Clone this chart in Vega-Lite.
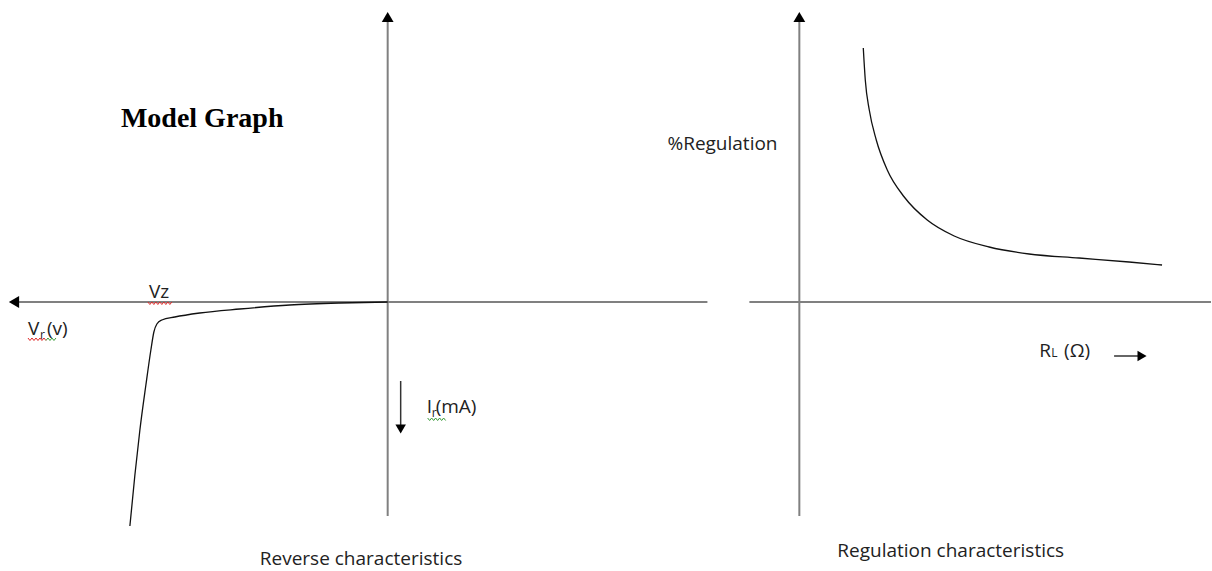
{
  "$schema": "https://vega.github.io/schema/vega-lite/v6.json",
  "width": 1212,
  "height": 571,
  "autosize": {"type": "fit", "contains": "padding"},
  "padding": 0,
  "background": "white",
  "config": {"view": {"stroke": null}},
  "datasets": {
    "axes": [
      {"name": "left-h", "x1": 18, "y1": 302, "x2": 708, "y2": 302},
      {"name": "left-v", "x1": 388, "y1": 20, "x2": 388, "y2": 516},
      {"name": "right-v", "x1": 800, "y1": 20, "x2": 800, "y2": 516},
      {"name": "right-h", "x1": 750, "y1": 302, "x2": 1212, "y2": 302}
    ],
    "pointers": [
      {"name": "Ir", "x1": 401, "y1": 381, "x2": 401, "y2": 426},
      {"name": "RL", "x1": 1115, "y1": 356, "x2": 1140, "y2": 356}
    ],
    "heads": [
      {"x": 388, "y": 17, "dir": "triangle-up", "kind": "axis"},
      {"x": 800, "y": 17, "dir": "triangle-up", "kind": "axis"},
      {"x": 14, "y": 302, "dir": "triangle-left", "kind": "axis"},
      {"x": 401, "y": 429, "dir": "triangle-down", "kind": "pointer"},
      {"x": 1143, "y": 356, "dir": "triangle-right", "kind": "pointer"}
    ],
    "curves": [
      {"id": "reverse", "ord": 0, "x": 388, "y": 302},
      {"id": "reverse", "ord": 1, "x": 340, "y": 303},
      {"id": "reverse", "ord": 2, "x": 290, "y": 305},
      {"id": "reverse", "ord": 3, "x": 240, "y": 309},
      {"id": "reverse", "ord": 4, "x": 200, "y": 313},
      {"id": "reverse", "ord": 5, "x": 175, "y": 317},
      {"id": "reverse", "ord": 6, "x": 162, "y": 320},
      {"id": "reverse", "ord": 7, "x": 157, "y": 324},
      {"id": "reverse", "ord": 8, "x": 154, "y": 332},
      {"id": "reverse", "ord": 9, "x": 151, "y": 350},
      {"id": "reverse", "ord": 10, "x": 146, "y": 385},
      {"id": "reverse", "ord": 11, "x": 140, "y": 430},
      {"id": "reverse", "ord": 12, "x": 135, "y": 475},
      {"id": "reverse", "ord": 13, "x": 130, "y": 526},
      {"id": "regulation", "ord": 0, "x": 864, "y": 48},
      {"id": "regulation", "ord": 1, "x": 866, "y": 80},
      {"id": "regulation", "ord": 2, "x": 870, "y": 110},
      {"id": "regulation", "ord": 3, "x": 877, "y": 140},
      {"id": "regulation", "ord": 4, "x": 888, "y": 170},
      {"id": "regulation", "ord": 5, "x": 905, "y": 197},
      {"id": "regulation", "ord": 6, "x": 928, "y": 220},
      {"id": "regulation", "ord": 7, "x": 955, "y": 236},
      {"id": "regulation", "ord": 8, "x": 990, "y": 247},
      {"id": "regulation", "ord": 9, "x": 1030, "y": 254},
      {"id": "regulation", "ord": 10, "x": 1080, "y": 258},
      {"id": "regulation", "ord": 11, "x": 1130, "y": 262},
      {"id": "regulation", "ord": 12, "x": 1163, "y": 265}
    ],
    "squiggles": [
      {"id": "vz", "kind": "spelling", "ord": 0, "x": 148, "y": 302},
      {"id": "vz", "kind": "spelling", "ord": 1, "x": 150, "y": 304.5},
      {"id": "vz", "kind": "spelling", "ord": 2, "x": 152, "y": 302},
      {"id": "vz", "kind": "spelling", "ord": 3, "x": 154, "y": 304.5},
      {"id": "vz", "kind": "spelling", "ord": 4, "x": 156, "y": 302},
      {"id": "vz", "kind": "spelling", "ord": 5, "x": 158, "y": 304.5},
      {"id": "vz", "kind": "spelling", "ord": 6, "x": 160, "y": 302},
      {"id": "vz", "kind": "spelling", "ord": 7, "x": 162, "y": 304.5},
      {"id": "vz", "kind": "spelling", "ord": 8, "x": 164, "y": 302},
      {"id": "vz", "kind": "spelling", "ord": 9, "x": 166, "y": 304.5},
      {"id": "vz", "kind": "spelling", "ord": 10, "x": 168, "y": 302},
      {"id": "vz", "kind": "spelling", "ord": 11, "x": 170, "y": 304.5},
      {"id": "vz", "kind": "spelling", "ord": 12, "x": 172, "y": 302},
      {"id": "vr", "kind": "spelling", "ord": 0, "x": 28, "y": 338},
      {"id": "vr", "kind": "spelling", "ord": 1, "x": 30, "y": 340.5},
      {"id": "vr", "kind": "spelling", "ord": 2, "x": 32, "y": 338},
      {"id": "vr", "kind": "spelling", "ord": 3, "x": 34, "y": 340.5},
      {"id": "vr", "kind": "spelling", "ord": 4, "x": 36, "y": 338},
      {"id": "vr", "kind": "spelling", "ord": 5, "x": 38, "y": 340.5},
      {"id": "vr", "kind": "spelling", "ord": 6, "x": 40, "y": 338},
      {"id": "vr", "kind": "spelling", "ord": 7, "x": 42, "y": 340.5},
      {"id": "vr", "kind": "spelling", "ord": 8, "x": 44, "y": 338},
      {"id": "vr", "kind": "spelling", "ord": 9, "x": 46, "y": 340.5},
      {"id": "vrg", "kind": "grammar", "ord": 0, "x": 46, "y": 340.5},
      {"id": "vrg", "kind": "grammar", "ord": 1, "x": 48, "y": 338},
      {"id": "vrg", "kind": "grammar", "ord": 2, "x": 50, "y": 340.5},
      {"id": "vrg", "kind": "grammar", "ord": 3, "x": 52, "y": 338},
      {"id": "vrg", "kind": "grammar", "ord": 4, "x": 54, "y": 340.5},
      {"id": "vrg", "kind": "grammar", "ord": 5, "x": 56, "y": 338},
      {"id": "ir", "kind": "grammar", "ord": 0, "x": 428, "y": 418},
      {"id": "ir", "kind": "grammar", "ord": 1, "x": 430, "y": 420.5},
      {"id": "ir", "kind": "grammar", "ord": 2, "x": 432, "y": 418},
      {"id": "ir", "kind": "grammar", "ord": 3, "x": 434, "y": 420.5},
      {"id": "ir", "kind": "grammar", "ord": 4, "x": 436, "y": 418},
      {"id": "ir", "kind": "grammar", "ord": 5, "x": 438, "y": 420.5},
      {"id": "ir", "kind": "grammar", "ord": 6, "x": 440, "y": 418},
      {"id": "ir", "kind": "grammar", "ord": 7, "x": 442, "y": 420.5},
      {"id": "ir", "kind": "grammar", "ord": 8, "x": 444, "y": 418},
      {"id": "ir", "kind": "grammar", "ord": 9, "x": 446, "y": 420.5}
    ],
    "labels": [
      {"role": "title", "x": 121, "y": 127, "text": "Model Graph"},
      {"role": "main", "x": 149, "y": 298, "text": "Vz"},
      {"role": "main", "x": 28, "y": 335, "text": "V"},
      {"role": "sub", "x": 40, "y": 339, "text": "r"},
      {"role": "main", "x": 47, "y": 335, "text": "(v)"},
      {"role": "main", "x": 427, "y": 413, "text": "I"},
      {"role": "sub", "x": 432, "y": 417, "text": "r"},
      {"role": "main", "x": 436, "y": 413, "text": "(mA)"},
      {"role": "main", "x": 668, "y": 150, "text": "%Regulation"},
      {"role": "main", "x": 1040, "y": 357, "text": "R"},
      {"role": "sub", "x": 1052, "y": 357, "text": "L"},
      {"role": "main", "x": 1065, "y": 357, "text": "(Ω)"},
      {"role": "main", "x": 260, "y": 565, "text": "Reverse characteristics"},
      {"role": "main", "x": 838, "y": 557, "text": "Regulation characteristics"}
    ]
  },
  "encoding": {},
  "layer": [
    {
      "data": {"name": "axes"},
      "mark": {"type": "rule", "color": "#808080", "strokeWidth": 2},
      "encoding": {
        "x": {"field": "x1", "type": "quantitative", "scale": {"domain": [0, 1212], "nice": false, "zero": false}, "axis": null},
        "y": {"field": "y1", "type": "quantitative", "scale": {"domain": [0, 571], "reverse": true, "nice": false, "zero": false}, "axis": null},
        "x2": {"field": "x2"},
        "y2": {"field": "y2"}
      }
    },
    {
      "data": {"name": "pointers"},
      "mark": {"type": "rule", "color": "#333333", "strokeWidth": 1.5},
      "encoding": {
        "x": {"field": "x1", "type": "quantitative", "axis": null},
        "y": {"field": "y1", "type": "quantitative", "axis": null},
        "x2": {"field": "x2"},
        "y2": {"field": "y2"}
      }
    },
    {
      "data": {"name": "curves"},
      "mark": {"type": "line", "color": "#111111", "strokeWidth": 1.3, "interpolate": "monotone"},
      "encoding": {
        "x": {"field": "x", "type": "quantitative", "axis": null},
        "y": {"field": "y", "type": "quantitative", "axis": null},
        "detail": {"field": "id"},
        "order": {"field": "ord", "type": "quantitative"}
      }
    },
    {
      "data": {"name": "squiggles"},
      "mark": {"type": "line", "strokeWidth": 1},
      "encoding": {
        "x": {"field": "x", "type": "quantitative", "axis": null},
        "y": {"field": "y", "type": "quantitative", "axis": null},
        "detail": {"field": "id"},
        "order": {"field": "ord", "type": "quantitative"},
        "color": {"field": "kind", "type": "nominal", "scale": {"domain": ["spelling", "grammar"], "range": ["#e02828", "#3a9a3a"]}, "legend": null}
      }
    },
    {
      "data": {"name": "heads"},
      "transform": [{"filter": "datum.kind === 'axis'"}],
      "mark": {"type": "point", "filled": true, "color": "#000000", "size": 140, "opacity": 1},
      "encoding": {
        "x": {"field": "x", "type": "quantitative", "axis": null},
        "y": {"field": "y", "type": "quantitative", "axis": null},
        "shape": {"field": "dir", "type": "nominal", "scale": null}
      }
    },
    {
      "data": {"name": "heads"},
      "transform": [{"filter": "datum.kind === 'pointer'"}],
      "mark": {"type": "point", "filled": true, "color": "#000000", "size": 110, "opacity": 1},
      "encoding": {
        "x": {"field": "x", "type": "quantitative", "axis": null},
        "y": {"field": "y", "type": "quantitative", "axis": null},
        "shape": {"field": "dir", "type": "nominal", "scale": null}
      }
    },
    {
      "data": {"name": "labels"},
      "transform": [{"filter": "datum.role === 'title'"}],
      "mark": {"type": "text", "align": "left", "baseline": "alphabetic", "font": "Liberation Serif", "fontWeight": "bold", "fontSize": 28, "color": "#000000"},
      "encoding": {
        "x": {"field": "x", "type": "quantitative", "axis": null},
        "y": {"field": "y", "type": "quantitative", "axis": null},
        "text": {"field": "text"}
      }
    },
    {
      "data": {"name": "labels"},
      "transform": [{"filter": "datum.role === 'main'"}],
      "mark": {"type": "text", "align": "left", "baseline": "alphabetic", "font": "Open Sans", "fontSize": 19, "color": "#222222"},
      "encoding": {
        "x": {"field": "x", "type": "quantitative", "axis": null},
        "y": {"field": "y", "type": "quantitative", "axis": null},
        "text": {"field": "text"}
      }
    },
    {
      "data": {"name": "labels"},
      "transform": [{"filter": "datum.role === 'sub'"}],
      "mark": {"type": "text", "align": "left", "baseline": "alphabetic", "font": "Open Sans", "fontSize": 12, "color": "#222222"},
      "encoding": {
        "x": {"field": "x", "type": "quantitative", "axis": null},
        "y": {"field": "y", "type": "quantitative", "axis": null},
        "text": {"field": "text"}
      }
    }
  ]
}
